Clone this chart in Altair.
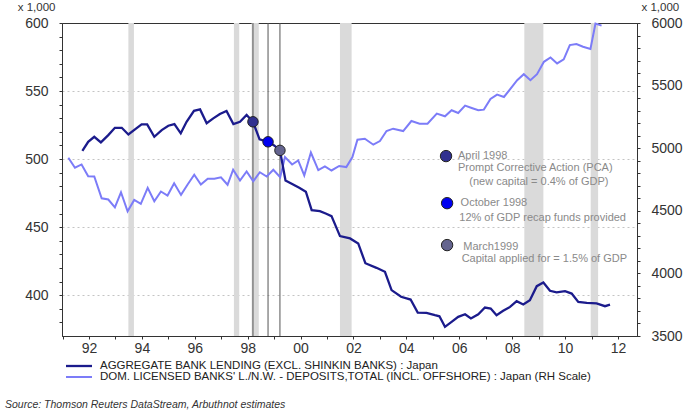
import altair as alt
import pandas as pd

# ---------------- data ----------------
LEND = "AGGREGATE BANK LENDING (EXCL. SHINKIN BANKS) : Japan"
DEP = "DOM. LICENSED BANKS' L./N.W. - DEPOSITS,TOTAL (INCL. OFFSHORE) : Japan (RH Scale)"
SOURCE = "Source: Thomson Reuters DataStream, Arbuthnot estimates"

lend_years = [
    1991.75, 1991.97, 1992.2, 1992.45, 1992.73, 1992.98, 1993.24, 1993.49, 1993.74, 1993.99,
    1994.2, 1994.47, 1994.75, 1995.0, 1995.23, 1995.47, 1995.69, 1995.97, 1996.2, 1996.45,
    1996.7, 1996.95, 1997.2, 1997.46, 1997.71, 1997.96, 1998.2, 1998.45, 1998.77, 1999.0,
    1999.22, 1999.43, 1999.7, 1999.95, 2000.2, 2000.42, 2000.73, 2000.95, 2001.17, 2001.49,
    2001.87, 2002.18, 2002.45, 2002.87, 2003.19, 2003.44, 2003.8, 2004.16, 2004.43, 2004.76,
    2005.08, 2005.25, 2005.46, 2005.71, 2005.96, 2006.22, 2006.44, 2006.72, 2006.97, 2007.19,
    2007.41, 2007.66, 2007.92, 2008.17, 2008.42, 2008.67, 2008.93, 2009.18, 2009.43, 2009.68,
    2010.0, 2010.25, 2010.5, 2010.82, 2011.19, 2011.51, 2011.7,
]
lend_values = [
    506, 512.7, 516.4, 512.3, 517.6, 523, 523, 518.1, 521.8, 525.5,
    525.5, 516.4, 521.3, 524.5, 525.7, 518.9, 527.4, 535.5, 536.5, 526.3,
    529.9, 533.1, 535.3, 525.7, 527.4, 532.4, 527.4, 514.5, 512.7, 510,
    506.4, 484.3, 481.5, 479, 476, 462.5, 461.8, 460, 458.1, 443.4,
    441.7, 438, 423.5, 420.1, 417.2, 403.7, 398.8, 396.8, 387.2, 387,
    385.3, 384.5, 376.7, 380.4, 384.1, 386, 382.9, 386, 390.9, 390.2,
    385.3, 388.5, 391.4, 395.6, 393.2, 396.3, 406.6, 409.3, 403.2, 402,
    402.9, 401.2, 395.1, 394.3, 393.9, 391.9, 393,
]

dep_years = [
    1991.22, 1991.47, 1991.72, 1991.97, 1992.2, 1992.48, 1992.73, 1992.98, 1993.21, 1993.46,
    1993.71, 1993.96, 1994.22, 1994.47, 1994.72, 1994.97, 1995.22, 1995.48, 1995.73, 1995.98,
    1996.23, 1996.49, 1996.74, 1996.99, 1997.24, 1997.45, 1997.71, 1997.96, 1998.21, 1998.46,
    1998.72, 1998.97, 1999.23, 1999.41, 1999.68, 1999.91, 2000.14, 2000.39, 2000.67, 2000.92,
    2001.17, 2001.46, 2001.73, 2001.96, 2002.15, 2002.43, 2002.75, 2003.0, 2003.25, 2003.5,
    2003.88, 2004.19, 2004.5, 2004.8, 2005.15, 2005.46, 2005.71, 2005.96, 2006.22, 2006.47,
    2006.72, 2006.93, 2007.18, 2007.43, 2007.69, 2007.94, 2008.19, 2008.44, 2008.69, 2008.94,
    2009.2, 2009.45, 2009.7, 2009.95, 2010.18, 2010.43, 2010.68, 2010.96, 2011.15, 2011.38,
]
dep_values = [
    4924, 4844, 4870, 4776, 4774, 4600, 4590, 4528, 4648, 4496,
    4587, 4555, 4683, 4576, 4654, 4622, 4720, 4627, 4710, 4788,
    4710, 4756, 4756, 4768, 4708, 4828, 4742, 4814, 4736, 4808,
    4774, 4828, 4768, 4929, 4870, 4902, 4782, 4965, 4825, 4855,
    4822, 4858, 4849, 4929, 5068, 5076, 5028, 5057, 5137, 5156,
    5137, 5217, 5196, 5196, 5276, 5255, 5303, 5281, 5340, 5321,
    5303, 5308, 5393, 5428, 5409, 5476, 5543, 5591, 5543, 5591,
    5690, 5725, 5677, 5709, 5824, 5832, 5810, 5792, 5995, 5979,
]

band_start = [1993.49, 1997.48, 1998.15, 2001.49, 2008.46, 2010.97]
band_end = [1993.70, 1997.68, 1998.42, 2001.93, 2009.18, 2011.25]

event_years = [1998.20, 1998.77, 1999.22]
event_values = [527.4, 512.7, 506.4]
event_fills = ["#30308f", "#0000f0", "#64648f"]

# annotation key (placed in data units of the left scale)
key_years = [2005.50, 2005.54, 2005.54]
key_values = [502.2, 467.6, 436.8]
note_years = [2005.95, 2005.95, 2006.38, 2006.05, 2006.0, 2006.15, 2006.09]
note_values = [502.2, 493.2, 482.9, 467.4, 456.8, 435.5, 426.5]
note_texts = [
    "April 1998",
    "Prompt Corrective Action (PCA)",
    "(new capital = 0.4% of GDP)",
    "October 1998",
    "12% of GDP recap funds provided",
    "March1999",
    "Capital applied for = 1.5% of GDP",
]

DARK = "#1b1b8c"
LIGHT = "#7c7cf8"
FONT = "Liberation Sans"

# ---------------- frames ----------------
lend_df = pd.DataFrame({"year": lend_years, "value": lend_values, "series": LEND})
dep_df = pd.DataFrame({"year": dep_years, "dep": dep_values, "series": DEP})
band_df = pd.DataFrame({"start": band_start, "end": band_end})
event_df = pd.DataFrame({"year": event_years, "value": event_values, "fill": event_fills})
key_df = pd.DataFrame({"year": key_years, "value": key_values, "fill": event_fills})
note_df = pd.DataFrame({"year": note_years, "value": note_values, "t": note_texts})

# ---------------- scales / axes ----------------
xscale = alt.Scale(domain=[1990.98, 2012.72], nice=False, zero=False)
x_axis = alt.Axis(
    values=list(range(1991, 2013)),
    labelExpr="datum.value % 2 == 0 ? slice(toString(datum.value), 2) : ''",
    tickSize=3, labelPadding=2, labelFontSize=14, labelColor="#333333",
    tickColor="#333333", domainColor="#333333", grid=False, title=None,
    labelOverlap=False, labelFlush=False,
)
lscale = alt.Scale(domain=[370, 600], nice=False, zero=False)
l_axis = alt.Axis(
    orient="left",
    values=list(range(380, 601, 10)),
    labelExpr="datum.value % 50 == 0 ? datum.label : ''",
    labelOverlap=False, labelFlush=False,
    tickSize=3, labelPadding=11, labelFontSize=14, labelColor="#333333",
    tickColor="#333333", domainColor="#333333",
    grid=True, gridColor="#c4c4c4", gridDash=[2, 3],
    gridOpacity={"condition": {"test": "datum.value % 50 == 0 && datum.value < 600", "value": 1}, "value": 0},
    title="x 1,000", titleAngle=0, titleX=-7, titleY=-13, titleAlign="right",
    titleBaseline="alphabetic", titleFontSize=11.5, titleFontWeight="normal", titleColor="#333333",
)
rscale = alt.Scale(domain=[3500, 6000], nice=False, zero=False)
r_axis = alt.Axis(
    orient="right",
    values=list(range(3500, 6001, 100)),
    labelExpr="datum.value % 500 == 0 ? datum.label : ''",
    format="d", labelOverlap=False, labelFlush=False,
    tickSize=3, labelPadding=11, labelFontSize=14, labelColor="#333333",
    tickColor="#333333", domainColor="#333333", grid=False,
    title="x 1,000", titleAngle=0, titleX=4, titleY=-13, titleAlign="left",
    titleBaseline="alphabetic", titleFontSize=11.5, titleFontWeight="normal", titleColor="#333333",
)

color_enc = alt.Color(
    "series:N",
    scale=alt.Scale(domain=[LEND, DEP], range=[DARK, LIGHT]),
    legend=None,
)


def X(field):
    return alt.X(f"{field}:Q", scale=xscale, axis=x_axis)


def YL(field):
    return alt.Y(f"{field}:Q", scale=lscale, axis=l_axis)


# ---------------- layers ----------------
bands = alt.Chart(band_df).mark_rect(color="#dadada").encode(x=X("start"), x2="end")
vlines = alt.Chart(event_df).mark_rule(color="#555555", strokeWidth=1).encode(x=X("year"))
bg = alt.layer(bands, vlines)

dep_line = alt.Chart(dep_df).mark_line(strokeWidth=2).encode(
    x=X("year"), y=alt.Y("dep:Q", scale=rscale, axis=r_axis), color=color_enc
)

lend_line = alt.Chart(lend_df).mark_line(strokeWidth=2.3).encode(
    x=X("year"), y=YL("value"), color=color_enc
)
events = alt.Chart(event_df).mark_circle(size=110, opacity=1, stroke="#222222", strokeWidth=1).encode(
    x=X("year"), y=YL("value"), fill=alt.Fill("fill:N", scale=None)
)
keys = alt.Chart(key_df).mark_circle(size=130, opacity=1, stroke="#222222", strokeWidth=1).encode(
    x=X("year"), y=YL("value"), fill=alt.Fill("fill:N", scale=None)
)
notes = alt.Chart(note_df).mark_text(
    align="left", baseline="middle", fontSize=11, color="#8a8a8a", font=FONT
).encode(x=X("year"), y=YL("value"), text="t:N")

# legend (drawn below the plot) and source line
one = pd.DataFrame({"k": [0]})
leg_sym1 = alt.Chart(one).mark_rule(color=DARK, strokeWidth=2.3).encode(
    x=alt.value(4), x2=alt.value(30), y=alt.value(343)
)
leg_sym2 = alt.Chart(one).mark_rule(color=LIGHT, strokeWidth=2).encode(
    x=alt.value(4), x2=alt.value(30), y=alt.value(354)
)
leg_txt1 = alt.Chart(one).mark_text(
    align="left", baseline="middle", fontSize=11.5, color="#222222", font=FONT, text=LEND
).encode(x=alt.value(38), y=alt.value(343))
leg_txt2 = alt.Chart(one).mark_text(
    align="left", baseline="middle", fontSize=11.5, color="#222222", font=FONT, text=DEP
).encode(x=alt.value(38), y=alt.value(354))
source = alt.Chart(one).mark_text(
    align="left", baseline="middle", fontSize=10.5, fontStyle="italic", color="#333333",
    font=FONT, text=SOURCE
).encode(x=alt.value(-57), y=alt.value(382))

fg = alt.layer(lend_line, events, keys, notes, leg_sym1, leg_sym2, leg_txt1, leg_txt2, source)

chart = (
    alt.layer(bg, dep_line, fg)
    .resolve_scale(y="independent")
    .properties(
        width=575, height=313,
        padding={"left": 62, "top": 23, "right": 63, "bottom": 81},
        autosize=alt.AutoSizeParams(type="none"),
        background="white",
    )
    .configure_view(stroke="#333333", strokeWidth=1)
    .configure_axis(labelFont=FONT, titleFont=FONT)
    .configure_text(font=FONT)
)

chart.save("out.html", embed_options={"renderer": "svg", "actions": False})
